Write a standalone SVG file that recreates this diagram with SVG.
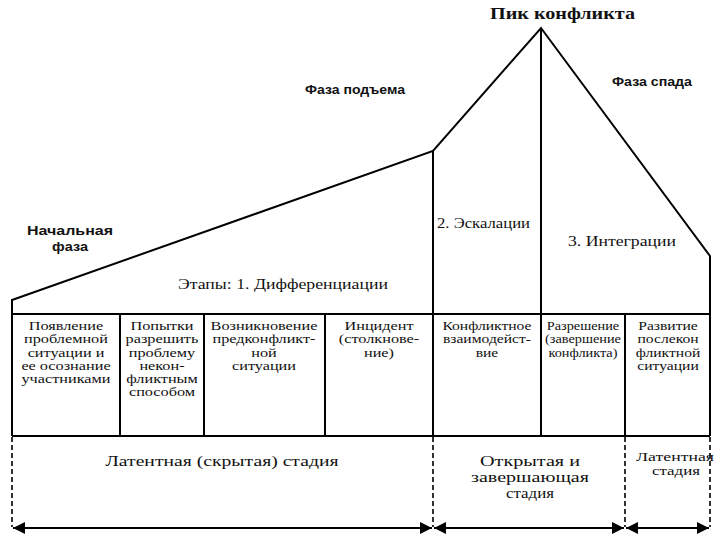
<svg xmlns="http://www.w3.org/2000/svg" width="720" height="540" viewBox="0 0 720 540">
<defs>
<style>
.ln{stroke:#000;stroke-width:2;fill:none}
.dash{stroke:#000;stroke-width:1.6;stroke-dasharray:5,3;fill:none}
.arr{stroke:#000;stroke-width:2;fill:none;marker-start:url(#ah);marker-end:url(#ah)}
.t{font-family:"Liberation Serif","Times New Roman",serif;font-size:13px;fill:#111;text-anchor:middle}
.m{font-family:"Liberation Serif","Times New Roman",serif;font-size:14px;fill:#111}
.s{font-family:"Liberation Serif","Times New Roman",serif;font-size:15px;fill:#111;text-anchor:middle}
.b{font-family:"Liberation Sans",Arial,sans-serif;font-weight:bold;font-size:13px;fill:#111}
.pk{font-family:"Liberation Serif","Times New Roman",serif;font-weight:bold;font-size:16px;fill:#111}
</style>
<marker id="ah" viewBox="0 0 10 10" refX="10" refY="5" markerWidth="6" markerHeight="6" orient="auto-start-reverse" markerUnits="strokeWidth">
<path d="M0,0 L10,5 L0,10 z" fill="#000"/>
</marker>
</defs>
<rect width="720" height="540" fill="#fff"/>

<g id="outline">
<polyline class="ln" points="12,436 12,300 433,151 541,28 710,256 710,436"/>
<line class="ln" x1="433" y1="151" x2="433" y2="436"/>
<line class="ln" x1="541" y1="28" x2="541" y2="436"/>
<line class="ln" x1="12" y1="314" x2="710" y2="314"/>
<line class="ln" x1="12" y1="436" x2="710" y2="436"/>
<line class="ln" x1="120" y1="314" x2="120" y2="436"/>
<line class="ln" x1="204" y1="314" x2="204" y2="436"/>
<line class="ln" x1="325" y1="314" x2="325" y2="436"/>
<line class="ln" x1="625" y1="314" x2="625" y2="436"/>
</g>

<g id="phase-labels">
<text class="pk" x="490" y="19" textLength="145" lengthAdjust="spacingAndGlyphs">Пик конфликта</text>
<text class="b" x="305" y="94" textLength="100" lengthAdjust="spacingAndGlyphs">Фаза подъема</text>
<text class="b" x="612" y="86" textLength="80" lengthAdjust="spacingAndGlyphs">Фаза спада</text>
<text class="b" x="27" y="235" textLength="86" lengthAdjust="spacingAndGlyphs">Начальная</text>
<text class="b" x="52" y="251" textLength="36" lengthAdjust="spacingAndGlyphs">фаза</text>
<text class="m" x="178" y="289" textLength="210" lengthAdjust="spacingAndGlyphs">Этапы: 1. Дифференциации</text>
<text class="m" x="437" y="228" textLength="93" lengthAdjust="spacingAndGlyphs">2. Эскалации</text>
<text class="m" x="568" y="246" textLength="108" lengthAdjust="spacingAndGlyphs">3. Интеграции</text>
</g>

<g id="box1" transform="scale(1.25 1)"><text class="t" x="52.8" y="330">Появление</text><text class="t" x="52.8" y="343">проблемной</text><text class="t" x="52.8" y="357">ситуации и</text><text class="t" x="52.8" y="370">ее осознание</text><text class="t" x="52.8" y="383">участниками</text></g>
<g id="box2" transform="scale(1.25 1)"><text class="t" x="129.6" y="330">Попытки</text><text class="t" x="129.6" y="343">разрешить</text><text class="t" x="129.6" y="357">проблему</text><text class="t" x="129.6" y="370">некон-</text><text class="t" x="129.6" y="383">фликтным</text><text class="t" x="129.6" y="396">способом</text></g>
<g id="box3" transform="scale(1.25 1)"><text class="t" x="211.2" y="330">Возникновение</text><text class="t" x="211.2" y="343">предконфликт-</text><text class="t" x="211.2" y="357">ной</text><text class="t" x="211.2" y="370">ситуации</text></g>
<g id="box4" transform="scale(1.25 1)"><text class="t" x="303.2" y="330">Инцидент</text><text class="t" x="303.2" y="343">(столкнове-</text><text class="t" x="303.2" y="357">ние)</text></g>
<g id="box5" transform="scale(1.2 1)"><text class="t" x="405.8" y="330">Конфликтное</text><text class="t" x="405.8" y="343">взаимодейст-</text><text class="t" x="405.8" y="357">вие</text></g>
<g id="box6" transform="scale(1.1 1)"><text class="t" x="530" y="330">Разрешение</text><text class="t" x="530" y="343">(завершение</text><text class="t" x="530" y="357">конфликта)</text></g>
<g id="box7" transform="scale(1.2 1)"><text class="t" x="556.7" y="330">Развитие</text><text class="t" x="556.7" y="343">послекон</text><text class="t" x="556.7" y="357">фликтной</text><text class="t" x="556.7" y="370">ситуации</text></g>

<g id="stage-labels">
<text class="s" x="222" y="466" textLength="233" lengthAdjust="spacingAndGlyphs">Латентная (скрытая) стадия</text>
<text class="s" x="530" y="466" textLength="100" lengthAdjust="spacingAndGlyphs">Открытая и</text>
<text class="s" x="530" y="482" textLength="118" lengthAdjust="spacingAndGlyphs">завершающая</text>
<text class="s" x="530" y="498" textLength="48" lengthAdjust="spacingAndGlyphs">стадия</text>
<text class="s" style="font-size:13px" x="675" y="461" textLength="78" lengthAdjust="spacingAndGlyphs">Латентная</text>
<text class="s" style="font-size:13px" x="676" y="475" textLength="48" lengthAdjust="spacingAndGlyphs">стадия</text>
</g>

<g id="connectors">
<line class="dash" x1="12" y1="437" x2="12" y2="527"/>
<line class="dash" x1="433" y1="437" x2="433" y2="527"/>
<line class="dash" x1="625" y1="437" x2="625" y2="527"/>
<line class="dash" x1="710" y1="437" x2="710" y2="527"/>
<line class="arr" x1="13" y1="528" x2="432" y2="528"/>
<line class="arr" x1="434" y1="528" x2="624" y2="528"/>
<line class="arr" x1="626" y1="528" x2="709" y2="528"/>
</g>
</svg>
